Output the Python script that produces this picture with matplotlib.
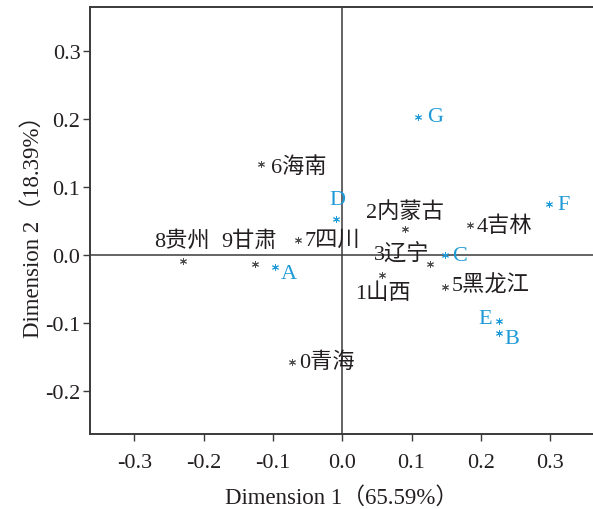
import matplotlib
matplotlib.use('Agg')
import matplotlib.pyplot as plt

plt.rcParams['font.family'] = ['Liberation Serif', 'Noto Sans CJK SC']
plt.rcParams['axes.unicode_minus'] = False

# provinces (gray)
prov_labels = ['0青海', '1山西', '2内蒙古', '3辽宁', '4吉林', '5黑龙江', '6海南', '7四川', '8贵州', '9甘肃']
prov_x = [-0.072, 0.058, 0.091, 0.126, 0.184, 0.148, -0.117, -0.064, -0.230, -0.126]
prov_y = [-0.157, -0.029, 0.038, -0.013, 0.044, -0.046, 0.134, 0.022, -0.009, -0.013]

# categories (blue)
cat_labels = ['A', 'B', 'C', 'D', 'E', 'F', 'G']
cat_x = [-0.097, 0.226, 0.149, -0.009, 0.226, 0.299, 0.110]
cat_y = [-0.018, -0.115, 0.0, 0.054, -0.097, 0.075, 0.204]

x_ticks = [-0.3, -0.2, -0.1, 0.0, 0.1, 0.2, 0.3]
y_ticks = [-0.2, -0.1, 0.0, 0.1, 0.2, 0.3]

gray = '#4d4d4d'
txt = '#231f20'
blue = '#1e9ad6'

# label placement in points (dx, dy, ha)
prov_pos = {
    '0青海': (5, 0, 'left'), '1山西': (0, -13, 'center'), '2内蒙古': (0, 13, 'center'),
    '3辽宁': (0, 7, 'right'), '4吉林': (5, 0, 'left'), '5黑龙江': (5, 1, 'left'),
    '6海南': (7, -2, 'left'), '7四川': (5, 0, 'left'), '8贵州': (-1, 15, 'center'),
    '9甘肃': (-4, 17, 'center'),
}
cat_pos = {
    'A': (4, -4, 'left'), 'B': (4, -4, 'left'), 'C': (5, 0, 'left'), 'D': (1, 14, 'center'),
    'E': (-5, 2, 'right'), 'F': (6, 0, 'left'), 'G': (6, 0, 'left'),
}

fig = plt.figure(figsize=(5.93, 5.10), dpi=100)
ax = fig.add_axes([0.152, 0.147, 0.848, 0.837])

ax.axhline(0, color='#3a3a3a', lw=1.1, zorder=1)
ax.axvline(0, color='#3a3a3a', lw=1.1, zorder=1)

ax.scatter(prov_x, prov_y, marker=(6, 2, 0), s=20, color=gray, lw=0.7, zorder=3)
ax.scatter(cat_x, cat_y, marker=(6, 2, 0), s=20, color=blue, lw=0.7, zorder=3)

for lab, x, y in zip(prov_labels, prov_x, prov_y):
    dx, dy, ha = prov_pos[lab]
    ax.annotate(lab, (x, y), xytext=(dx, dy), textcoords='offset points',
                ha=ha, va='center', fontsize=16, color=txt, fontweight='light')
for lab, x, y in zip(cat_labels, cat_x, cat_y):
    dx, dy, ha = cat_pos[lab]
    ax.annotate(lab, (x, y), xytext=(dx, dy), textcoords='offset points',
                ha=ha, va='center', fontsize=16, color=blue)

ax.set_xlim(-0.364, 0.362)
ax.set_ylim(-0.263, 0.365)
ax.set_xticks(x_ticks)
ax.set_yticks(y_ticks)
ax.set_xticklabels([f'{v:.1f}' for v in x_ticks], fontsize=16)
ax.set_yticklabels([f'{v:.1f}' for v in y_ticks], fontsize=16)
ax.tick_params(direction='out', length=5, width=1, color='#3a3a3a', labelcolor=txt, pad=2)
ax.tick_params(axis='x', pad=9)

ax.set_xlabel('Dimension 1（65.59%）', fontsize=16.5, color=txt, labelpad=10)
ax.set_ylabel('Dimension 2（18.39%）', fontsize=16.5, color=txt, labelpad=1)

for s in ['left', 'bottom', 'top']:
    ax.spines[s].set_linewidth(1.4)
    ax.spines[s].set_color('#3a3a3a')
ax.spines['right'].set_visible(False)

fig.savefig('out.png', dpi=100)
